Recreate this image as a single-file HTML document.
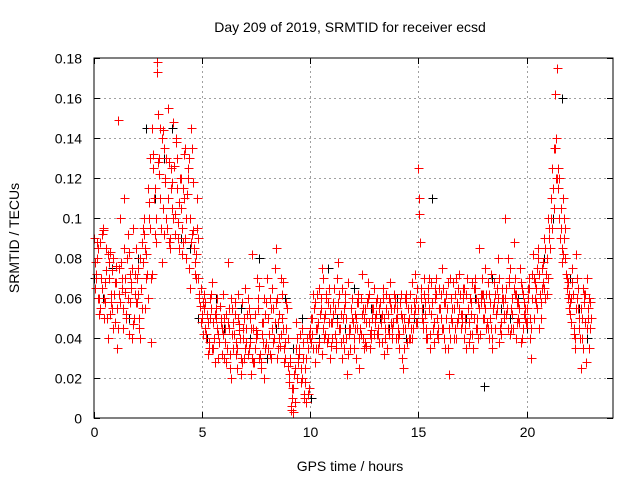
<!DOCTYPE html>
<html><head><meta charset="utf-8">
<style>
html,body{margin:0;padding:0;background:#fff;}
svg{display:block;font-family:"Liberation Sans",sans-serif;}
</style></head>
<body>
<svg id="chart" width="640" height="480" viewBox="0 0 640 480">
<text x="350" y="32" text-anchor="middle" font-size="14">Day 209 of 2019, SRMTID for receiver ecsd</text>
<text x="350" y="471" text-anchor="middle" font-size="14">GPS time / hours</text>
<text transform="translate(19,238) rotate(-90)" text-anchor="middle" font-size="14">SRMTID / TECUs</text>
<g id="grid"></g>
<g id="ticks"></g>
<g id="black" shape-rendering="crispEdges"></g>
<g id="red" shape-rendering="crispEdges"></g>
<rect x="94" y="58" width="519" height="360" fill="none" stroke="#000" stroke-width="1" shape-rendering="crispEdges"/>
</svg>
<script>
const xTicks = [0,5,10,15,20];
const yTicks = [0,0.02,0.04,0.06,0.08,0.1,0.12,0.14,0.16,0.18];
const yTickLabels = ["0","0.02","0.04","0.06","0.08","0.1","0.12","0.14","0.16","0.18"];
const redStep = 0.1;
const redStarts = [0, 0.025, 0.05, 0.075];
const redA = [
.09,.072,.085,.055,.094,.068,.05,.078,.062,.045,
.076,.149,.058,.07,.11,.052,.083,.065,.047,.072,
.058,.045,.088,.1,.07,.115,.13,.145,.092,.178,
.13,.095,.144,.118,.155,.085,.105,.126,.14,.098,
.12,.088,.135,.112,.075,.145,.094,.082,.07,.056,
.05,.062,.042,.035,.055,.048,.028,.06,.038,.045,
.03,.052,.078,.025,.042,.058,.035,.047,.022,.04,
.065,.032,.05,.082,.028,.044,.06,.025,.038,.052,
.07,.042,.03,.055,.085,.048,.036,.062,.028,.045,
.018,.006,.003,.025,.04,.032,.045,.012,.008,.035,
.045,.05,.028,.062,.038,.055,.07,.042,.058,.03,
.048,.065,.035,.078,.052,.04,.062,.022,.045,.055,
.04,.03,.058,.045,.072,.05,.036,.062,.044,.055,
.048,.06,.038,.052,.032,.055,.045,.068,.04,.058,
.05,.035,.062,.025,.045,.055,.04,.068,.052,.06,
.125,.065,.048,.058,.04,.07,.052,.038,.062,.045,
.055,.075,.04,.062,.022,.05,.068,.045,.058,.072,
.048,.065,.035,.055,.06,.042,.07,.05,.085,.058,
.062,.075,.045,.058,.035,.068,.052,.08,.042,.06,
.1,.055,.07,.045,.088,.062,.05,.075,.04,.058,
.048,.07,.03,.082,.06,.075,.045,.065,.09,.072,
.1,.085,.125,.162,.175,.12,.095,.11,.08,.068,
.058,.075,.042,.082,.055,.025,.065,.048,.07,.035];
const redC = [
.078,.088,.06,.07,.095,.058,.082,.052,.074,.062,
.068,.045,.1,.055,.063,.08,.042,.068,.095,.058,
.075,.04,.055,.092,.082,.1,.07,.132,.115,.173,
.122,.14,.092,.13,.11,.09,.118,.102,.13,.085,
.105,.115,.09,.125,.1,.135,.085,.07,.09,.065,
.058,.045,.052,.038,.062,.035,.05,.042,.056,.032,
.05,.028,.045,.06,.035,.052,.025,.044,.058,.03,
.045,.06,.038,.03,.052,.042,.066,.028,.048,.035,
.05,.032,.065,.04,.058,.035,.07,.045,.03,.055,
.022,.004,.015,.035,.028,.042,.02,.01,.03,.042,
.05,.035,.058,.045,.065,.032,.05,.062,.04,.055,
.04,.055,.048,.062,.038,.05,.058,.032,.045,.06,
.035,.05,.062,.042,.055,.038,.058,.048,.04,.065,
.052,.045,.058,.038,.05,.062,.042,.055,.048,.06,
.055,.042,.05,.035,.058,.048,.062,.04,.055,.065,
.11,.06,.045,.052,.065,.042,.058,.048,.07,.04,
.05,.065,.035,.055,.045,.06,.04,.07,.05,.062,
.052,.04,.062,.048,.058,.035,.065,.045,.055,.062,
.058,.045,.068,.05,.04,.062,.055,.07,.048,.058,
.06,.045,.075,.052,.065,.04,.058,.068,.045,.055,
.055,.065,.045,.07,.058,.085,.062,.075,.065,.08,
.095,.1,.115,.135,.12,.1,.085,.09,.072,.06,
.052,.068,.04,.06,.045,.055,.035,.062,.05,.058];
const redB = [
.065,.08,.052,.092,.06,.074,.04,.083,.055,.068,
.035,.062,.078,.045,.07,.092,.058,.075,.05,.085,
.062,.08,.095,.055,.072,.108,.038,.125,.088,.152,
.11,.078,.135,.1,.088,.125,.148,.092,.115,.108,
.082,.132,.1,.12,.065,.092,.078,.11,.06,.048,
.042,.058,.032,.05,.068,.04,.055,.03,.048,.062,
.045,.035,.055,.02,.048,.032,.062,.04,.028,.05,
.038,.055,.022,.045,.035,.07,.03,.048,.02,.058,
.035,.06,.045,.075,.03,.052,.042,.068,.038,.026,
.028,.01,.022,.048,.03,.018,.038,.025,.04,.015,
.038,.062,.045,.035,.052,.075,.04,.06,.048,.036,
.058,.042,.07,.045,.03,.055,.04,.068,.035,.05,
.052,.045,.025,.06,.04,.055,.068,.035,.05,.042,
.058,.042,.05,.065,.045,.035,.06,.048,.055,.04,
.045,.058,.03,.05,.062,.04,.055,.045,.072,.048,
.102,.055,.07,.045,.06,.035,.058,.065,.042,.055,
.062,.045,.058,.035,.07,.048,.055,.04,.065,.052,
.06,.045,.07,.038,.052,.065,.045,.058,.042,.07,
.05,.062,.04,.072,.055,.045,.065,.038,.06,.052,
.065,.08,.042,.06,.07,.048,.055,.038,.062,.05,
.06,.04,.072,.05,.065,.08,.058,.068,.085,.062,
.09,.11,.135,.14,.115,.09,.078,.1,.065,.055,
.048,.062,.035,.07,.05,.04,.058,.028,.055,.045];
const redD = [
.07,.06,.088,.065,.05,.085,.07,.058,.08,.048,
.055,.075,.065,.085,.05,.06,.072,.04,.062,.07,
.05,.065,.078,.085,.06,.095,.072,.11,.1,.128,
.145,.105,.12,.095,.128,.115,.1,.138,.09,.12,
.095,.11,.08,.13,.088,.118,.072,.095,.062,.052,
.055,.04,.048,.06,.035,.052,.045,.038,.05,.042,
.038,.048,.032,.055,.042,.038,.05,.03,.045,.035,
.052,.035,.045,.028,.04,.055,.032,.042,.06,.038,
.042,.055,.038,.048,.06,.04,.05,.035,.058,.04,
.03,.015,.008,.02,.035,.025,.03,.018,.012,.04,
.042,.055,.035,.048,.06,.045,.052,.038,.065,.048,
.052,.038,.058,.045,.065,.035,.05,.042,.055,.048,
.045,.058,.04,.052,.035,.048,.06,.042,.055,.05,
.042,.055,.048,.06,.04,.052,.058,.045,.062,.05,
.04,.052,.045,.06,.038,.05,.045,.058,.048,.055,
.088,.05,.062,.04,.055,.068,.045,.06,.05,.065,
.045,.058,.05,.068,.04,.055,.062,.048,.055,.045,
.065,.05,.055,.042,.068,.05,.06,.04,.062,.05,
.055,.048,.062,.045,.058,.052,.06,.045,.065,.05,
.052,.068,.055,.045,.062,.058,.048,.065,.052,.048,
.065,.05,.06,.068,.055,.072,.05,.078,.06,.07,
.085,.095,.105,.12,.125,.105,.082,.095,.07,.062,
.06,.045,.055,.065,.04,.05,.062,.045,.06,.05];
const blackStart = 0.02, blackStep = 0.4;
const blackV = [.07,.06,.075,.1,.05,.08,.145,.11,.13,.145,.09,.085,.05,.04,.06,.045,.035,.055,.04,.08,.03,.045,.06,.035,.05,.01,.04,.075,.05,.045,.065,.04,.055,.05,.045,.06,.04,.05,.055,.11,.055,.045,.065,.05,.06,.016,.07,.055,.05,.06,.045,.065,.08,.1,.16,.07,.055,.04];

const X0=94, X1=613, Y0=418, Y1=58, XMAX=24, YMAX=0.18;
const xs = t => X0 + (X1-X0)*t/XMAX;
const ys = v => Y0 - (Y0-Y1)*v/YMAX;
const NS='http://www.w3.org/2000/svg';
function mk(tag, attrs, parent){const e=document.createElementNS(NS,tag);for(const k in attrs)e.setAttribute(k,attrs[k]);parent.appendChild(e);return e;}
const grid=document.getElementById('grid'), ticks=document.getElementById('ticks');
xTicks.forEach(t=>{
  const x=Math.round(xs(t))+0.5;
  if(t>0){const g=mk('line',{x1:x,x2:x,y1:Y0,y2:Y1,stroke:'#a0a0a0','stroke-dasharray':'2,3'},grid);
  
  }
  mk('line',{x1:x,x2:x,y1:Y0,y2:Y0-6,stroke:'#000'},ticks);
  mk('line',{x1:x,x2:x,y1:Y1,y2:Y1+6,stroke:'#000'},ticks);
  const l=mk('text',{x:x,y:Y0+19,'text-anchor':'middle','font-size':'14'},ticks);
  l.textContent=String(t);
  
  
});
yTicks.forEach((v,i)=>{
  const y=Math.round(ys(v))+0.5;
  if(i>0&&i<yTicks.length-1){const g=mk('line',{x1:X0,x2:X1,y1:y,y2:y,stroke:'#a0a0a0','stroke-dasharray':'2,3'},grid);
  
  }
  mk('line',{x1:X0,x2:X0+6,y1:y,y2:y,stroke:'#000'},ticks);
  mk('line',{x1:X1,x2:X1-6,y1:y,y2:y,stroke:'#000'},ticks);
  const l=mk('text',{x:X0-12,y:y+5,'text-anchor':'end','font-size':'14'},ticks);
  l.textContent=yTickLabels[i];
  
  
});
function cross(g,t,v,color,name){
  const x=Math.round(xs(t))+0.5, y=Math.round(ys(v))+0.5;
  const p=mk('path',{d:`M${x-4},${y}H${x+5}M${x},${y-4}V${y+5}`,stroke:color,'stroke-width':'1',fill:'none'},g);
  
  
}
const bg=document.getElementById('black'), rg=document.getElementById('red');
blackV.forEach((v,i)=>cross(bg,blackStart+i*blackStep,v,'#000','black-point'));
[redA,redC,redB,redD].forEach((arr,k)=>arr.forEach((v,i)=>cross(rg,redStarts[k]+i*redStep,v,'#ff0000','red-point')));
</script>
</body></html>
